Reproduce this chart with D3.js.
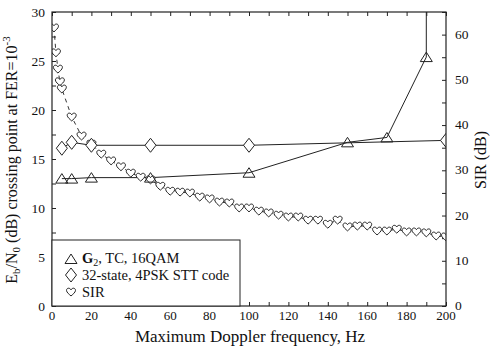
<!DOCTYPE html>
<html>
<head>
<meta charset="utf-8">
<script src="https://cdn.jsdelivr.net/npm/d3@7"></script>
<style>
	body { margin: 0; background: #fff; }
</style>
</head>
<body>
<div id="chart"></div>
<script>
// G2, TC, 16QAM (left axis)
const triFreq = [5, 10, 20, 50, 100, 150, 170, 190];
const triEbNo = [13.0, 13.0, 13.1, 13.1, 13.6, 16.7, 17.2, 25.4];

// 32-state, 4PSK STT code (left axis)
const diaFreq = [5, 10, 20, 50, 100, 200];
const diaEbNo = [16.1, 16.7, 16.4, 16.4, 16.4, 16.9];

// SIR (right axis)
const sirFreq = [1, 2, 3, 4, 5, 10, 15, 20, 25, 30, 35, 40, 45, 50, 55, 60, 65, 70, 75, 80,
	85, 90, 95, 100, 105, 110, 115, 120, 125, 130, 135, 140, 145, 150, 155, 160, 165, 170,
	175, 180, 185, 190, 195, 200];
const sirDb = [61.5, 56.0, 52.4, 49.6, 48.0, 41.8, 37.6, 35.8, 33.6, 32.1, 30.8, 29.4, 28.5,
	27.9, 26.5, 25.4, 25.2, 25.0, 24.1, 23.7, 23.0, 22.8, 21.7, 21.7, 21.0, 20.6, 20.1, 19.7,
	19.7, 19.0, 19.0, 18.1, 19.0, 17.5, 17.7, 17.7, 16.6, 16.6, 17.0, 16.4, 16.4, 16.2, 15.5, 15.3];

const xTicks = [0, 20, 40, 60, 80, 100, 120, 140, 160, 180, 200];
const leftTicks = [0, 5, 10, 15, 20, 25, 30];
const rightTicks = [0, 10, 20, 30, 40, 50, 60];

const width = 490, height = 348;
const mLeft = 52, mRight = 446, mTop = 12, mBottom = 306;
const serif = "'Liberation Serif', 'Times New Roman', serif";

const svg = d3.select("#chart")
	.append("svg")
	.attr("width", width)
	.attr("height", height);

let x = d3.scaleLinear().domain([0, 200]).range([mLeft, mRight]);
let yL = d3.scaleLinear().domain([0, 30]).range([mBottom, mTop]);
let yR = d3.scaleLinear().domain([0, 65]).range([mBottom, mTop]);

svg.append("clipPath").attr("id", "plot")
	.append("rect")
	.attr("x", mLeft).attr("y", mTop)
	.attr("width", mRight - mLeft).attr("height", mBottom - mTop);

// axes with inward ticks
svg.append("g")
	.attr("transform", "translate(0," + mBottom + ")")
	.call(d3.axisTop(x).tickValues(d3.range(0, 201, 10)).tickSize(4).tickFormat(""))
	.call(g => g.select(".domain").remove());
svg.append("g")
	.attr("transform", "translate(0," + mTop + ")")
	.call(d3.axisBottom(x).tickValues(d3.range(0, 201, 10)).tickSize(4).tickFormat(""))
	.call(g => g.select(".domain").remove());
svg.append("g")
	.attr("transform", "translate(" + mLeft + ",0)")
	.call(d3.axisRight(yL).tickValues(d3.range(0, 30.1, 2.5)).tickSize(4).tickFormat(""))
	.call(g => g.select(".domain").remove());
svg.append("g")
	.attr("transform", "translate(" + mRight + ",0)")
	.call(d3.axisLeft(yR).tickValues(d3.range(0, 65.1, 5)).tickSize(4).tickFormat(""))
	.call(g => g.select(".domain").remove());

svg.selectAll("g.tick line").attr("stroke", "#222");

// tick labels
svg.selectAll("text.xl")
	.data(xTicks)
	.enter().append("text")
	.attr("x", d => x(d))
	.attr("y", 320)
	.attr("text-anchor", "middle")
	.attr("fill", "#111")
	.style("font-family", serif)
	.style("font-size", "13px")
	.text(d => d);

svg.selectAll("text.yl")
	.data(leftTicks)
	.enter().append("text")
	.attr("x", mLeft - 7)
	.attr("y", d => yL(d) + 4.5)
	.attr("text-anchor", "end")
	.attr("fill", "#111")
	.style("font-family", serif)
	.style("font-size", "13.5px")
	.text(d => d);

svg.selectAll("text.yr")
	.data(rightTicks)
	.enter().append("text")
	.attr("x", mRight + 9)
	.attr("y", d => yR(d) + 4)
	.attr("text-anchor", "start")
	.attr("fill", "#111")
	.style("font-family", serif)
	.style("font-size", "13.5px")
	.text(d => d);

// axis titles
svg.append("text")
	.attr("x", 250)
	.attr("y", 342)
	.attr("text-anchor", "middle")
	.attr("fill", "#111")
	.style("font-family", serif)
	.style("font-size", "17px")
	.text("Maximum Doppler frequency, Hz");

let yTitle = svg.append("text")
	.attr("transform", "translate(17,160) rotate(-90)")
	.attr("text-anchor", "middle")
	.attr("fill", "#111")
	.style("font-family", serif)
	.style("font-size", "16px");
yTitle.append("tspan").text("E");
yTitle.append("tspan").attr("dy", 3).style("font-size", "11px").text("b");
yTitle.append("tspan").attr("dy", -3).text("/N");
yTitle.append("tspan").attr("dy", 3).style("font-size", "11px").text("0");
yTitle.append("tspan").attr("dy", -3).text(" (dB) crossing point at FER=10");
yTitle.append("tspan").attr("dy", -7).style("font-size", "11px").text("-3");

svg.append("text")
	.attr("transform", "translate(486,160) rotate(-90)")
	.attr("text-anchor", "middle")
	.attr("fill", "#111")
	.style("font-family", serif)
	.style("font-size", "16px")
	.text("SIR (dB)");

// lines
const plot = svg.append("g").attr("clip-path", "url(#plot)");

let triData = triFreq.map((f, i) => ({f: f, v: triEbNo[i]}));
let diaData = diaFreq.map((f, i) => ({f: f, v: diaEbNo[i]}));
let sirData = sirFreq.map((f, i) => ({f: f, v: sirDb[i]}));

let lineL = d3.line().x(d => x(d.f)).y(d => yL(d.v));
let lineR = d3.line().x(d => x(d.f)).y(d => yR(d.v));

plot.append("path")
	.attr("d", lineR(sirData))
	.attr("fill", "none")
	.attr("stroke", "#333")
	.attr("stroke-width", 1)
	.attr("stroke-dasharray", "4,4");

plot.append("path")
	.attr("d", lineL(diaData))
	.attr("fill", "none")
	.attr("stroke", "#222")
	.attr("stroke-width", 1);

plot.append("path")
	.attr("d", lineL(triData))
	.attr("fill", "none")
	.attr("stroke", "#222")
	.attr("stroke-width", 1);

// last triangle runs off the top of the chart
let lastTri = triData[triData.length - 1];
plot.append("line")
	.attr("x1", x(lastTri.f)).attr("x2", x(lastTri.f))
	.attr("y1", yL(lastTri.v)).attr("y2", mTop)
	.attr("stroke", "#222");

// markers
const triPath = "M0,-5L6,4.5L-6,4.5Z";
const diaPath = "M0,-7L5.5,0L0,7L-5.5,0Z";
const heartPath = "M0,4C-1.4,2.7 -4.5,0.4 -4.5,-1.6C-4.5,-4.2 -1.3,-4.6 0,-2.2C1.3,-4.6 4.5,-4.2 4.5,-1.6C4.5,0.4 1.4,2.7 0,4Z";

plot.selectAll("path.heart")
	.data(sirData)
	.enter().append("path")
	.attr("class", "heart")
	.attr("d", heartPath)
	.attr("transform", d => "translate(" + x(d.f) + "," + yR(d.v) + ")")
	.attr("fill", "#fff")
	.attr("stroke", "#222")
	.attr("stroke-width", 1);

plot.selectAll("path.dia")
	.data(diaData)
	.enter().append("path")
	.attr("class", "dia")
	.attr("d", diaPath)
	.attr("transform", d => "translate(" + x(d.f) + "," + yL(d.v) + ")")
	.attr("fill", "#fff")
	.attr("stroke", "#222")
	.attr("stroke-width", 1);

plot.selectAll("path.tri")
	.data(triData)
	.enter().append("path")
	.attr("class", "tri")
	.attr("d", triPath)
	.attr("transform", d => "translate(" + x(d.f) + "," + yL(d.v) + ")")
	.attr("fill", "none")
	.attr("stroke", "#222")
	.attr("stroke-width", 1);

// frame
svg.append("rect")
	.attr("x", mLeft).attr("y", mTop)
	.attr("width", mRight - mLeft).attr("height", mBottom - mTop)
	.attr("fill", "none")
	.attr("stroke", "#222")
	.attr("stroke-width", 1.2);

// legend
let legend = svg.append("g");
legend.append("rect")
	.attr("x", mLeft).attr("y", 240)
	.attr("width", 188).attr("height", mBottom - 240)
	.attr("fill", "#fff")
	.attr("stroke", "#222");

const legendRows = [
	{shape: triPath, y: 259},
	{shape: diaPath, y: 275},
	{shape: heartPath, y: 292}
];
legend.selectAll("path.leg")
	.data(legendRows)
	.enter().append("path")
	.attr("d", d => d.shape)
	.attr("transform", d => "translate(71," + d.y + ")")
	.attr("fill", "#fff")
	.attr("stroke", "#222");

let t1 = legend.append("text").attr("x", 82).attr("y", 263).attr("fill", "#111")
	.style("font-family", serif).style("font-size", "14.5px");
t1.append("tspan").style("font-weight", "bold").text("G");
t1.append("tspan").attr("dy", 3).style("font-size", "10px").text("2");
t1.append("tspan").attr("dy", -3).text(", TC, 16QAM");
legend.append("text").attr("x", 82).attr("y", 280).attr("fill", "#111")
	.style("font-family", serif).style("font-size", "14.5px").text("32-state, 4PSK STT code");
legend.append("text").attr("x", 82).attr("y", 297).attr("fill", "#111")
	.style("font-family", serif).style("font-size", "14.5px").text("SIR");
</script>
</body>
</html>
